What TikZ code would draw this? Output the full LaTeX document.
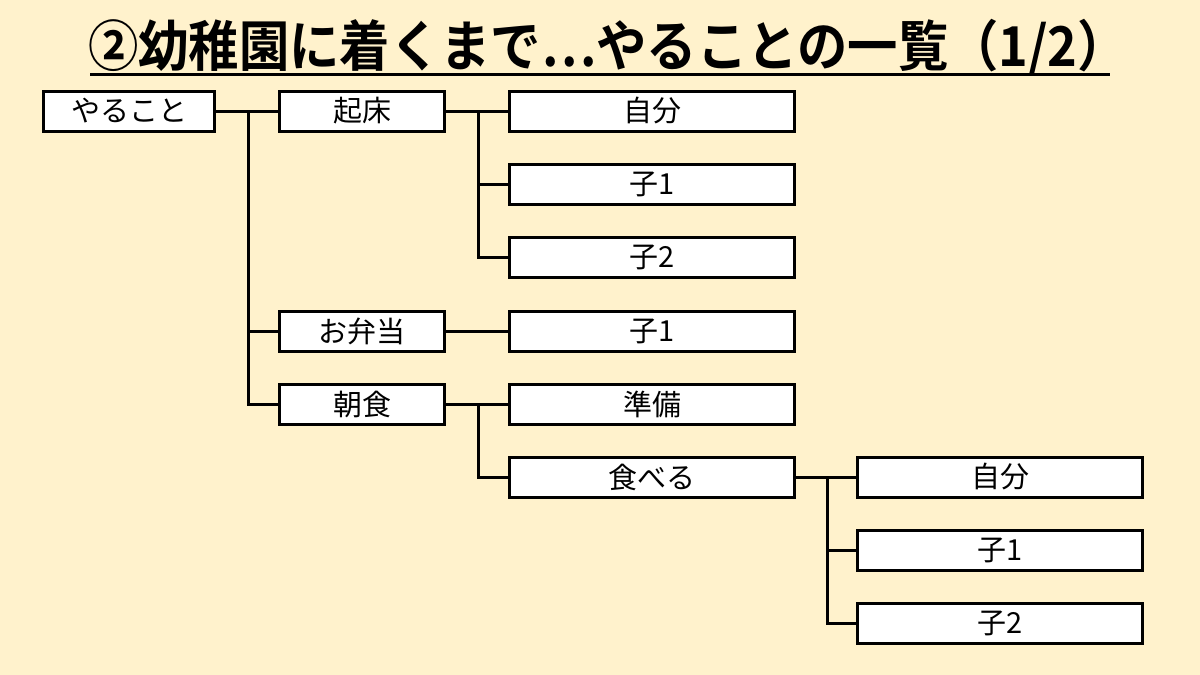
\documentclass[tikz,border=0pt]{standalone}
\usepackage{fontspec}
\setmainfont{Noto Sans CJK JP}
\newfontfamily\titlefont{Noto Sans CJK JP}[BoldFont={* Bold}]
\definecolor{haikei}{HTML}{FFF2CC}
\tikzset{
  box/.style={draw,line width=3pt,fill=white,minimum height=40pt,inner sep=0pt,font=\fontsize{29}{29}\selectfont},
  lv1/.style={box,minimum width=171pt},
  lv2/.style={box,minimum width=165pt},
  lv3/.style={box,minimum width=285pt},
  conn/.style={line width=3pt}
}
\begin{document}
\begin{tikzpicture}[x=1pt,y=-1pt]
    \fill[haikei] (0,0) rectangle (1200,675);
    \useasboundingbox (0,0) rectangle (1200,675);

    % タイトル
    \node (title) at (608,48) {\scalebox{0.915}[1]{\titlefont\bfseries\fontsize{55}{55}\selectfont ②幼稚園に着くまで…やることの一覧（1/2）}};
    \draw[line width=3pt] (90,74) -- (1110,74);

    % 一段目
    \node[lv1] (yaru) at (129,111) {やること};
    \node[lv2] (kisho) at (362,111) {起床};
    \node[lv2] (bento) at (362,331) {お弁当};
    \node[lv2] (chou) at (362,404) {朝食};

    % 起床
    \node[lv3] (kjibun) at (652,111) {自分};
    \node[lv3] (kko1) at (652,184) {子1};
    \node[lv3] (kko2) at (652,257) {子2};
    % お弁当
    \node[lv3] (bko1) at (652,331) {子1};
    % 朝食
    \node[lv3] (junbi) at (652,404) {準備};
    \node[lv3] (taberu) at (652,477) {食べる};
    % 食べる
    \node[lv3] (tjibun) at (1000,477) {自分};
    \node[lv3] (tko1) at (1000,550) {子1};
    \node[lv3] (tko2) at (1000,623) {子2};

    \coordinate (j1) at (248,111);
    \coordinate (j2) at (478,111);
    \coordinate (j3) at (478,404);
    \coordinate (j4) at (827,477);

    \draw[conn] (yaru) -- (kisho);
    \draw[conn] (j1) |- (bento.west);
    \draw[conn] (j1) |- (chou.west);
    \draw[conn] (kisho) -- (kjibun);
    \draw[conn] (j2) |- (kko1.west);
    \draw[conn] (j2) |- (kko2.west);
    \draw[conn] (bento) -- (bko1);
    \draw[conn] (chou) -- (junbi);
    \draw[conn] (j3) |- (taberu.west);
    \draw[conn] (taberu) -- (tjibun);
    \draw[conn] (j4) |- (tko1.west);
    \draw[conn] (j4) |- (tko2.west);
\end{tikzpicture}
\end{document}
